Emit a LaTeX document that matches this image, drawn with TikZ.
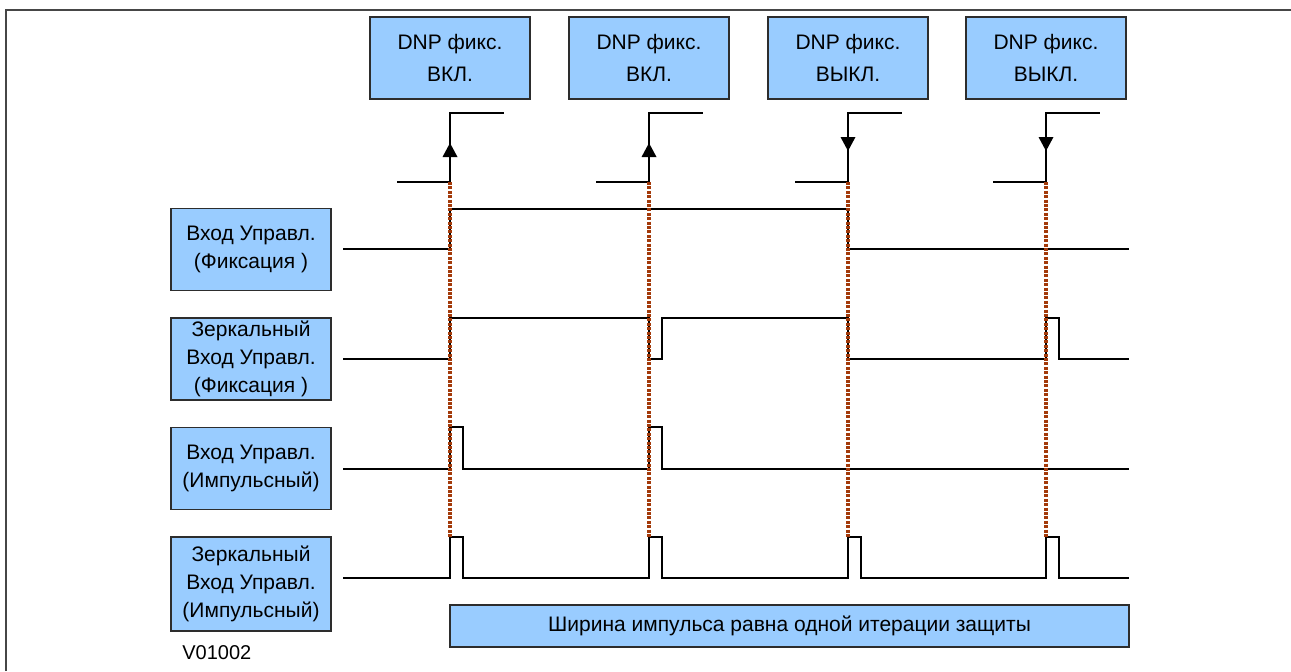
\documentclass[tikz,border=0pt]{standalone}
\usepackage{fontspec}
\setmainfont{Liberation Sans}
\definecolor{boxfill}{RGB}{153,204,255}
\definecolor{boxline}{RGB}{45,45,45}
\definecolor{framecol}{RGB}{70,70,70}
\definecolor{syncred}{RGB}{163,58,10}
\tikzset{
  tagbox/.style={draw=boxline, fill=boxfill, line width=0.75pt, inner sep=0pt,
    minimum width=80pt, minimum height=41pt, align=center,
    font=\fontsize{10.5}{16}\selectfont},
  rowbox/.style={tagbox, font=\fontsize{10.5}{14}\selectfont},
  wave/.style={line width=1pt, black, line join=miter},
  edgeline/.style={line width=1.2pt, black},
  sync/.style={draw=syncred, line width=2pt, dash pattern=on 1.5pt off 0.7pt},
  tipfill/.style={fill=black, draw=none}
}
\begin{document}
\begin{tikzpicture}[x=0.5pt,y=-0.5pt]
\useasboundingbox (0,0) rectangle (1291,671);
% outer frame (top and left edges)
\draw[framecol, line width=1pt] (6,671) -- (6,10) -- (1291,10);

% event instants
\def\ea{450}\def\eb{649}\def\ec{848}\def\ed{1046}
\def\pw{13}

% event captions
\node[tagbox] (dnp1) at (\ea,58) {DNP фикс.\\ВКЛ.};
\node[tagbox] (dnp2) at (\eb,58) {DNP фикс.\\ВКЛ.};
\node[tagbox] (dnp3) at (\ec,58) {DNP фикс.\\ВЫКЛ.};
\node[tagbox] (dnp4) at (\ed,58) {DNP фикс.\\ВЫКЛ.};

% signal names
\node[rowbox] (in1) at (251,249.5) {Вход Управл.\\(Фиксация )};
\node[rowbox] (in2) at (251,359) {Зеркальный\\Вход Управл.\\(Фиксация )};
\node[rowbox] (in3) at (251,468.5) {Вход Управл.\\(Импульсный)};
\node[rowbox, minimum height=47pt] (in4) at (251,584) {Зеркальный\\Вход Управл.\\(Импульсный)};

% note about pulse width
\node[rowbox, minimum width=339.5pt, minimum height=21pt] (pw) at (789.5,626)
  {Ширина импульса равна одной итерации защиты};

% drawing code
\node[anchor=west, inner sep=0pt, font=\fontsize{10}{12}\selectfont] (code) at (182,653) {V01002};

% edge markers: rising for ON, falling for OFF
\foreach \x/\n in {\ea/1,\eb/2,\ec/3,\ed/4}{
  \coordinate (lo\n) at (\x,182);
  \coordinate (hi\n) at (\x,113);
  \coordinate (sb\n) at (\x,537);
  \draw[edgeline] (\x-53,182) -- (lo\n) -- (hi\n) -- (\x+54,113);
}
\foreach \x in {\ea,\eb}{
  \fill[tipfill] (\x,143) -- (\x-7.5,157) -- (\x+7.5,157) -- cycle;
}
\foreach \x in {\ec,\ed}{
  \fill[tipfill] (\x,151) -- (\x-7.5,137) -- (\x+7.5,137) -- cycle;
}

% waveforms
% row 1: latch input
\draw[wave] (343,249) -- (\ea,249) -- (\ea,209) -- (\ec,209) -- (\ec,249) -- (1129,249);
% row 2: mirrored latch input
\draw[wave] (343,359) -- (\ea,359) -- (\ea,318) -- (\eb,318) -- (\eb,359)
  -- (\eb+\pw,359) -- (\eb+\pw,318) -- (\ec,318) -- (\ec,359) -- (\ed,359)
  -- (\ed,318) -- (\ed+\pw,318) -- (\ed+\pw,359) -- (1129,359);
% row 3: pulsed input
\draw[wave] (343,469) -- (\ea,469) -- (\ea,427) -- (\ea+\pw,427) -- (\ea+\pw,469)
  -- (\eb,469) -- (\eb,427) -- (\eb+\pw,427) -- (\eb+\pw,469) -- (1129,469);
% row 4: mirrored pulsed input
\draw[wave] (343,578) -- (\ea,578) -- (\ea,537) -- (\ea+\pw,537) -- (\ea+\pw,578)
  -- (\eb,578) -- (\eb,537) -- (\eb+\pw,537) -- (\eb+\pw,578)
  -- (\ec,578) -- (\ec,537) -- (\ec+\pw,537) -- (\ec+\pw,578)
  -- (\ed,578) -- (\ed,537) -- (\ed+\pw,537) -- (\ed+\pw,578) -- (1129,578);

% synchronisation lines
\foreach \n in {1,2,3,4}{
  \draw[sync] (lo\n) -- (sb\n);
}
\end{tikzpicture}
\end{document}
